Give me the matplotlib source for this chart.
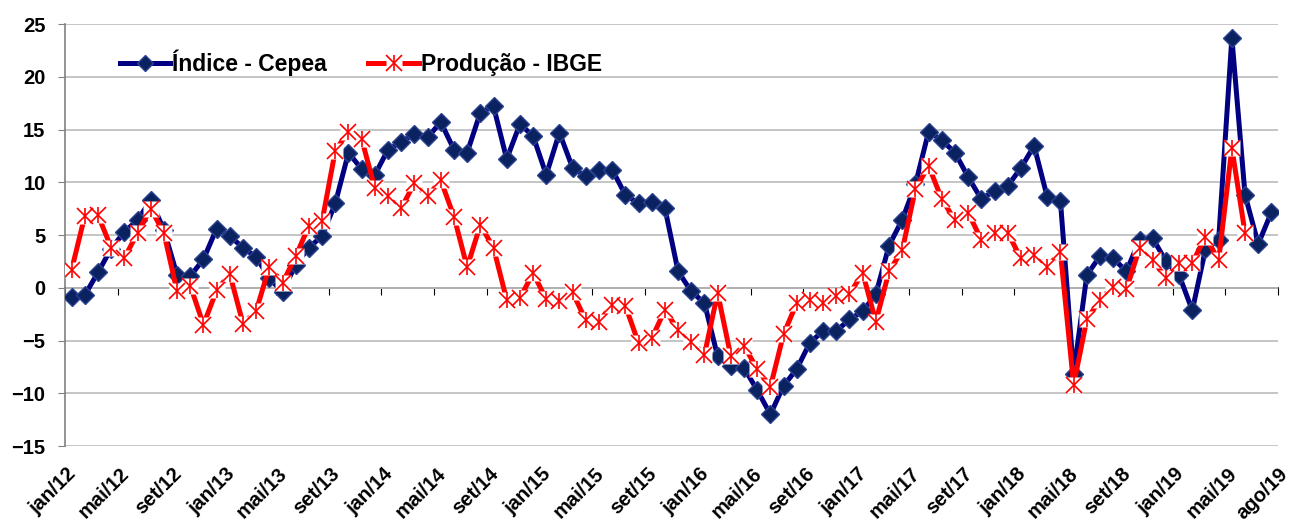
import matplotlib
matplotlib.use('Agg')
import matplotlib.pyplot as plt
from matplotlib.lines import Line2D
from matplotlib.transforms import ScaledTranslation
import numpy as np

plt.rcParams['font.family'] = ['Liberation Sans', 'DejaVu Sans']
plt.rcParams['font.weight'] = 'bold'

# variação anual (%) - jan/12 a ago/19
cepea = [-0.9, -0.7, 1.45, 3.7, 5.3, 6.4, 8.3, 5.5, 1.2, 1.1, 2.7, 5.6,
         4.9, 3.8, 2.9, 0.9, -0.4, 2.2, 3.8, 4.9, 8.0, 12.8, 11.25, 10.7,
         13.1, 13.8, 14.6, 14.25, 15.7, 13.1, 12.8, 16.6, 17.2, 12.2, 15.5, 14.4,
         10.7, 14.7, 11.35, 10.55, 11.2, 11.2, 8.8, 8.0, 8.1, 7.55, 1.55, -0.35,
         -1.45, -6.5, -7.4, -7.6, -9.7, -12.0, -9.3, -7.7, -5.2, -4.1, -4.1, -3.0,
         -2.25, -0.6, 4.0, 6.45, 9.8, 14.8, 14.0, 12.8, 10.5, 8.4, 9.2, 9.65,
         11.35, 13.45, 8.6, 8.2, -8.15, 1.2, 3.0, 2.8, 1.55, 4.55, 4.7, 2.5,
         1.2, -2.15, 3.65, 4.55, 23.7, 8.8, 4.15, 7.15]

ibge = [1.7, 6.8, 6.9, 3.8, 2.8, 5.2, 7.5, 5.2, -0.35, 0.2, -3.5, -0.25,
        1.3, -3.4, -2.2, 2.0, 0.45, 3.0, 5.85, 6.3, 13.0, 14.8, 14.1, 9.45,
        8.7, 7.55, 9.9, 8.65, 10.2, 6.75, 1.95, 5.95, 3.8, -1.15, -1.0, 1.4,
        -1.1, -1.3, -0.45, -3.1, -3.2, -1.6, -1.7, -5.25, -4.8, -2.1, -4.0, -5.1,
        -6.35, -0.5, -6.5, -5.5, -7.7, -9.4, -4.4, -1.45, -1.2, -1.4, -0.75, -0.6,
        1.4, -3.2, 1.55, 3.55, 9.35, 11.55, 8.4, 6.4, 7.1, 4.55, 5.2, 5.2,
        2.8, 3.1, 2.0, 3.35, -9.2, -3.0, -1.15, 0.1, -0.15, 3.75, 2.65, 0.9,
        2.35, 2.35, 4.85, 2.6, 13.25, 5.2]

meses = ['jan', 'fev', 'mar', 'abr', 'mai', 'jun', 'jul', 'ago', 'set', 'out', 'nov', 'dez']
anos = ['12', '13', '14', '15', '16', '17', '18', '19']
rotulos = [m + '/' + a for a in anos for m in meses][:len(cepea)]

n = len(cepea)
x = np.arange(n)
xr = np.arange(len(ibge))
ymin, ymax = -15, 25

fig = plt.figure(figsize=(12.9, 5.24), dpi=100)
ax = fig.add_axes([65 / 1290, 78 / 524, 1213 / 1290, 422 / 524])

azul = '#000080'
verm = '#ff0000'

ax.plot(x, cepea, color=azul, lw=3.6, marker='D', ms=9, mfc='#0b2260',
        mec='#2a4290', mew=1, zorder=3)
ax.plot(xr, ibge, color=verm, lw=3.6, marker='s', ms=11, mfc='white',
        mec='none', zorder=4)
ax.plot(xr, ibge, ls='none', marker='x', ms=12, mec=verm, mew=1.2, zorder=5)
ax.plot(xr, ibge, ls='none', marker='|', ms=12, mec=verm, mew=1.2, zorder=5)

ax.set_xlim(-0.5, n - 0.5)
ax.set_ylim(ymin, ymax)
ax.set_yticks(range(ymin, ymax + 1, 5))
ax.yaxis.grid(True, color='#c0c0c0', lw=1.3)
ax.set_axisbelow(True)

pos = list(range(0, n, 4))
if pos[-1] != n - 1:
    pos.append(n - 1)
ax.set_xticks(pos)
ax.set_xticklabels([rotulos[i] for i in pos], rotation=45, ha='right',
                   va='top', rotation_mode='anchor', fontsize=14.5)
ax.tick_params(axis='x', length=0, pad=13)
ax.tick_params(axis='y', direction='out', length=5, color='#808080',
               labelsize=14.5, pad=9)

# rótulos um pouco à esquerda; ago/19 deslocado p/ direita como no original
labs = ax.get_xticklabels()
for k, lb in enumerate(labs):
    dx = 5 if k == len(labs) - 1 else -3.6
    lb.set_transform(lb.get_transform() + ScaledTranslation(dx / 72, 0, fig.dpi_scale_trans))

for s in ['top', 'right', 'bottom']:
    ax.spines[s].set_visible(False)
ax.spines['left'].set_color('#808080')
ax.spines['left'].set_linewidth(1.2)

# eixo no zero com as marcas
sec = ax.secondary_xaxis((0 - ymin) / (ymax - ymin))
sec.set_xticks(np.arange(-0.5, n, 4))
sec.tick_params(direction='out', length=5, color='black', labelbottom=False)
sec.spines['bottom'].set_color('black')
sec.spines['bottom'].set_linewidth(1.2)

h1 = Line2D([], [], color=azul, lw=3.6, marker='D', ms=8, mfc='#0b2260',
            mec='#2a4290', mew=1)
h2a = Line2D([], [], color=verm, lw=3.6, marker='s', ms=11, mfc='white', mec='none')
h2b = Line2D([], [], ls='none', marker='x', ms=12, mec=verm, mew=1.2)
h2c = Line2D([], [], ls='none', marker='|', ms=12, mec=verm, mew=1.2)
ax.legend([h1, (h2a, h2b, h2c)], ['Índice - Cepea', 'Produção - IBGE'],
          loc='center left', bbox_to_anchor=(0.045, 0.908), ncol=2,
          frameon=False, fontsize=16.5, handlelength=2.2, handletextpad=0.1,
          columnspacing=1.8, borderpad=0, borderaxespad=0, numpoints=1)

plt.savefig('out.png', dpi=100)
